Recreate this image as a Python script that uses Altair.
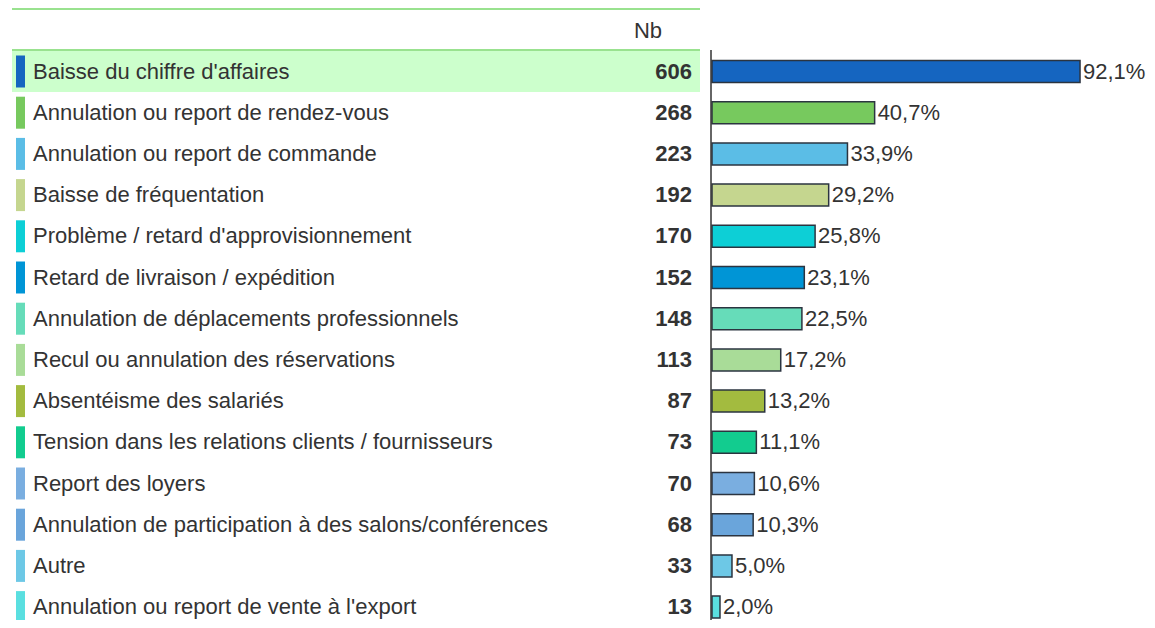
import altair as alt
import pandas as pd

labels = [
    "Baisse du chiffre d'affaires",
    "Annulation ou report de rendez-vous",
    "Annulation ou report de commande",
    "Baisse de fréquentation",
    "Problème / retard d'approvisionnement",
    "Retard de livraison / expédition",
    "Annulation de déplacements professionnels",
    "Recul ou annulation des réservations",
    "Absentéisme des salariés",
    "Tension dans les relations clients / fournisseurs",
    "Report des loyers",
    "Annulation de participation à des salons/conférences",
    "Autre",
    "Annulation ou report de vente à l'export",
]
counts = [606, 268, 223, 192, 170, 152, 148, 113, 87, 73, 70, 68, 33, 13]
percents = [92.1, 40.7, 33.9, 29.2, 25.8, 23.1, 22.5, 17.2, 13.2, 11.1, 10.6, 10.3, 5.0, 2.0]
colors = ["#1565c0", "#77c95e", "#5bbde6", "#c5d68f", "#0dcfd6", "#0095d6", "#66dcb9",
          "#a9dc98", "#a3bb3f", "#12cc8f", "#7aaee0", "#6aa5db", "#6dc8e6", "#5adfe0"]

df = pd.DataFrame({
    "label": labels,
    "nb": counts,
    "pct": percents,
    "pct_label": [f"{p:.1f}%".replace(".", ",") for p in percents],
})

FONT = "Liberation Sans"
FS = 22
W, H = 1139, 612
Y_RANGE = [42.9, 619.7]


def y_enc(center=False):
    kw = {"bandPosition": 0.5} if center else {}
    return alt.Y("label:N", sort=labels, axis=None,
                 scale=alt.Scale(domain=labels, range=Y_RANGE, paddingInner=0, paddingOuter=0), **kw)


color_enc = alt.Color("label:N", scale=alt.Scale(domain=labels, range=colors), legend=None)
x_scale = alt.Scale(domain=[0, 100], range=[704, 1103.6])

base = alt.Chart(df)
first = base.transform_filter(alt.datum.label == labels[0])

highlight = first.mark_rect(color="#ccffcc").encode(
    y=y_enc(), x=alt.value(4), x2=alt.value(692))

top_line = first.mark_rule(color="#99e28f", strokeWidth=2).encode(
    x=alt.value(4), x2=alt.value(692), y=alt.value(1))
sep_line = first.mark_rule(color="#99e28f", strokeWidth=2).encode(
    x=alt.value(4), x2=alt.value(692), y=alt.value(42))
axis_line = first.mark_rule(color="#333333", strokeWidth=1.5).encode(
    x=alt.value(703), y=alt.value(42), y2=alt.value(H))

header = first.mark_text(
    font=FONT, fontSize=FS, color="#333333", align="center", baseline="middle").encode(
    x=alt.value(640), y=alt.value(23), text=alt.value("Nb"))

strips = base.mark_bar(size=32, orient="horizontal").encode(
    y=y_enc(), x=alt.value(8), x2=alt.value(17), color=color_enc)

label_text = base.mark_text(font=FONT, fontSize=FS, color="#333333", align="left", baseline="middle").encode(
    y=y_enc(True), x=alt.value(25), text="label:N")

nb_text = base.mark_text(font=FONT, fontSize=FS, fontWeight="bold", color="#333333",
                         align="right", baseline="middle").encode(
    y=y_enc(True), x=alt.value(684), text="nb:Q")

bars = base.mark_bar(size=22, stroke="#2b3440", strokeWidth=1.5).encode(
    y=y_enc(), x=alt.X("pct:Q", scale=x_scale, axis=None), x2=alt.datum(0), color=color_enc)

pct_text = base.mark_text(font=FONT, fontSize=FS, color="#333333", align="left", baseline="middle", dx=3).encode(
    y=y_enc(True), x=alt.X("pct:Q", scale=x_scale, axis=None), text="pct_label:N")

chart = alt.layer(highlight, top_line, sep_line, strips, label_text, nb_text, header,
                  bars, axis_line, pct_text).properties(
    width=W, height=H, padding=0, autosize=alt.AutoSizeParams(type="none")
).configure_view(stroke=None)

chart.save("out.html", embed_options={"renderer": "svg", "actions": False})
